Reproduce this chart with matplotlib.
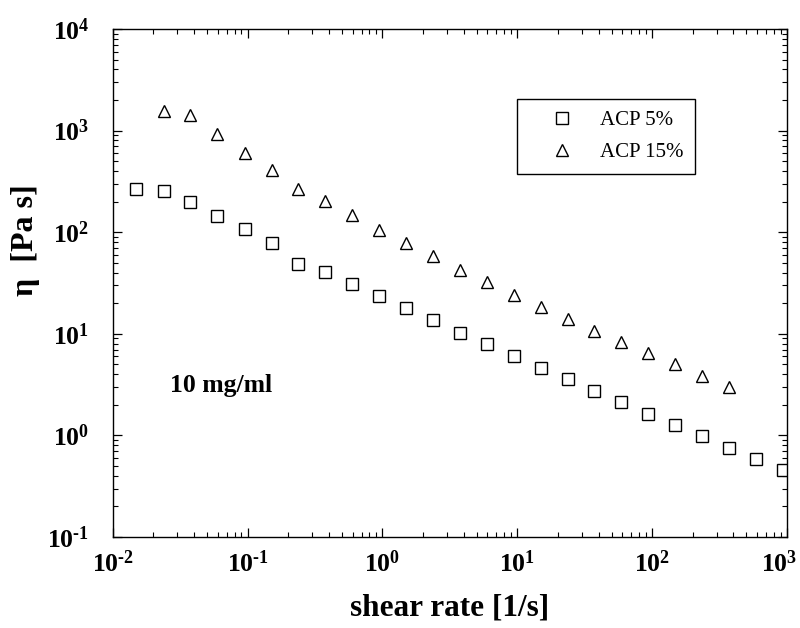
import numpy as np
import matplotlib
matplotlib.use("Agg")
import matplotlib.pyplot as plt
import matplotlib.transforms as mtransforms
from matplotlib.ticker import FuncFormatter

# viscosity vs shear rate
shear_acp5 = [0.0149, 0.0238, 0.0373, 0.0596, 0.0957, 0.152, 0.237, 0.377, 0.598, 0.944,
              1.49, 2.38, 3.73, 5.93, 9.42, 15.0, 23.7, 37.0, 58.9, 92.7,
              147, 234, 373, 586, 931]
eta_acp5 = [264, 256, 197, 144, 107, 77.8, 48.7, 40.8, 31.1, 23.7,
            17.8, 13.7, 10.3, 8.0, 6.04, 4.63, 3.56, 2.75, 2.12, 1.63,
            1.27, 0.99, 0.76, 0.586, 0.456]

shear_acp15 = [0.0238, 0.0373, 0.0596, 0.0957, 0.152, 0.237, 0.377, 0.598, 0.944,
               1.49, 2.38, 3.73, 5.93, 9.42, 15.0, 23.7, 37.0, 58.9, 92.7,
               147, 234, 373]
eta_acp15 = [1570, 1415, 927, 607, 410, 264, 204, 147, 106,
             78.9, 57.9, 42.5, 32.4, 24.3, 18.5, 14.0, 10.7, 8.35, 6.52,
             5.01, 3.85, 2.97]

plt.rcParams['font.family'] = ['Liberation Serif', 'DejaVu Serif']
plt.rcParams['font.weight'] = 'bold'
plt.rcParams['mathtext.fontset'] = 'custom'
plt.rcParams['mathtext.rm'] = 'Liberation Serif:bold'
plt.rcParams['mathtext.it'] = 'Liberation Serif:bold'
plt.rcParams['mathtext.bf'] = 'Liberation Serif:bold'


def pow10(v, pos):
    e = int(round(np.log10(v)))
    # short hyphen instead of the long math minus, like the original
    return r'$10^{%s}$' % str(e).replace('-', '\u2010')


fig = plt.figure(figsize=(8, 6.28), dpi=100)
ax = fig.add_axes([0.1409, 0.1449, 0.8429, 0.8089])

ax.plot(shear_acp5, eta_acp5, ls='none', marker='s', ms=8, mfc='white',
        mec='black', mew=1.0, label='ACP 5%')
ax.plot(shear_acp15, eta_acp15, ls='none', marker='^', ms=8.5, mfc='white',
        mec='black', mew=1.0, label='ACP 15%')

ax.set_xscale('log')
ax.set_yscale('log')
ax.set_xlim(1e-2, 1e3)
ax.set_ylim(1e-1, 1e4)
ax.xaxis.set_major_formatter(FuncFormatter(pow10))
ax.yaxis.set_major_formatter(FuncFormatter(pow10))

ax.tick_params(which='both', direction='in', top=True, right=True, colors='black')
ax.tick_params(which='major', length=6.5, width=0.9, labelsize=18.5)
ax.tick_params(which='minor', length=3.5, width=0.8)
ax.tick_params(axis='x', which='major', pad=10)
ax.tick_params(axis='y', which='major', pad=17)
for s in ax.spines.values():
    s.set_linewidth(1.0)

ax.set_xlabel('shear rate [1/s]', fontsize=22.5, fontweight='bold', va='center')
ax.xaxis.set_label_coords(0.5, -0.14)
ax.set_ylabel('η  [Pa s]', fontsize=23, fontweight='bold', va='center')
ax.yaxis.set_label_coords(-0.129, 0.585)

ax.text(0.085, 0.299, '10 mg/ml', transform=ax.transAxes, fontsize=18.5,
        fontweight='bold', va='center', ha='left')

leg = ax.legend(loc='upper left', bbox_to_anchor=(0.600, 0.862), borderaxespad=0,
                prop={'family': 'Liberation Serif', 'weight': 'normal', 'size': 15},
                fancybox=False, framealpha=1, edgecolor='black',
                handlelength=3.2, handletextpad=0.2, borderpad=0.55, labelspacing=0.6)
leg.get_frame().set_linewidth(1.0)

# last x label sits a bit inside the edge in the original
fig.canvas.draw()
shift = mtransforms.ScaledTranslation(-6 / 72, 0, fig.dpi_scale_trans)
for tick in ax.xaxis.get_major_ticks():
    if abs(tick.get_loc() - 1e3) < 1:
        tick.label1.set_transform(tick.label1.get_transform() + shift)

fig.savefig('out.png', dpi=100)
